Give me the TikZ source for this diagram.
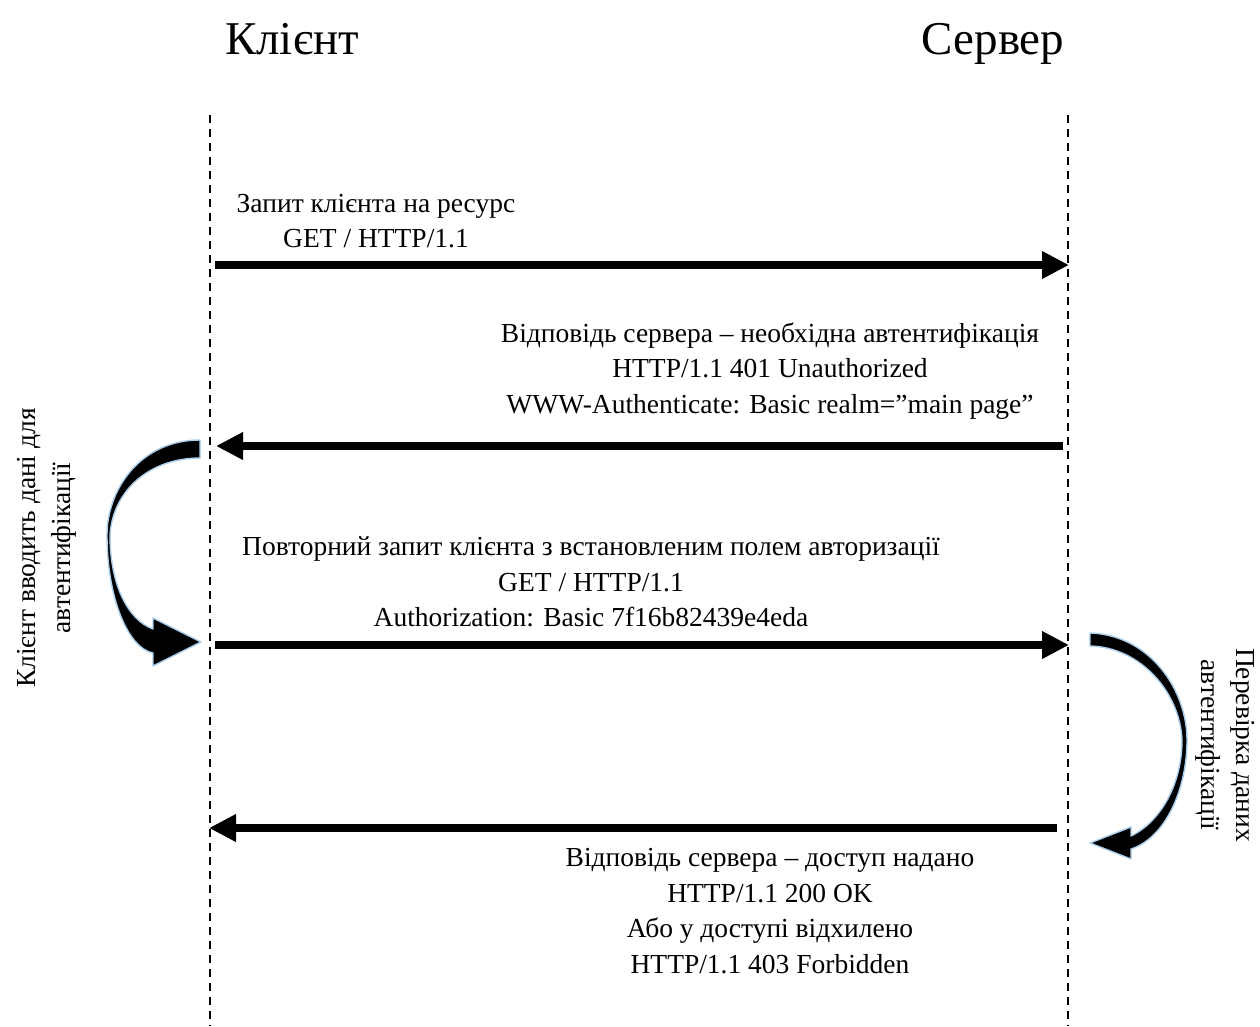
\documentclass[tikz,border=0pt]{standalone}
\usepackage{fontspec}
\setmainfont{Liberation Serif}
\usetikzlibrary{arrows.meta}
\begin{document}
\begin{tikzpicture}[x=1pt,y=-1pt,
  msg/.style={line width=8pt,-{Triangle[length=27pt,width=26pt]}},
  life/.style={line width=1.1pt,dash pattern=on 8pt off 6pt},
  lbl/.style={align=center,inner sep=0pt,font=\fontsize{27.5}{35.5}\selectfont},
  ttl/.style={inner sep=0pt,anchor=base,font=\fontsize{47}{50}\selectfont},
  curvearrow/.style={fill=black,draw={rgb,255:red,170;green,205;blue,235},line width=1.4pt,line join=round}]
\useasboundingbox (0,0) rectangle (1260,1026);

% headings
\node[ttl] (client) at (292,54) {Клієнт};
\node[ttl] (server) at (993,54) {Сервер};

% lifelines
\coordinate (cT) at (210,115); \coordinate (cB) at (210,1026);
\coordinate (sT) at (1068,115); \coordinate (sB) at (1068,1026);
\draw[life] (cT) -- (cB);
\draw[life] (sT) -- (sB);

% message end points
\coordinate (m1a) at (215,265);  \coordinate (m1b) at (1069,265);
\coordinate (m2a) at (1063,446); \coordinate (m2b) at (216,446);
\coordinate (m3a) at (215,645);  \coordinate (m3b) at (1069,645);
\coordinate (m4a) at (1057,828); \coordinate (m4b) at (209,828);

\draw[msg] (m1a) -- (m1b);
\draw[msg] (m2a) -- (m2b);
\draw[msg] (m3a) -- (m3b);
\draw[msg] (m4a) -- (m4b);

% message labels
\node[lbl] (t1) at (376,221) {Запит клієнта на ресурс\\GET / HTTP/1.1};
\node[lbl] (t2) at (770,371) {Відповідь сервера – необхідна автентифікація\\HTTP/1.1 401 Unauthorized\\WWW-Authenticate: Basic realm=”main page”};
\node[lbl] (t3) at (591,582) {Повторний запит клієнта з встановленим полем авторизації\\GET / HTTP/1.1\\Authorization: Basic 7f16b82439e4eda};
\node[lbl] (t4) at (770,911) {Відповідь сервера – доступ надано\\HTTP/1.1 200 OK\\Або у доступі відхилено\\HTTP/1.1 403 Forbidden};

% client-side curved arrow
\path[curvearrow] (200,440) .. controls (140,440) and (107,490) .. (107,535)
  .. controls (107,598) and (128,648) .. (153,653) -- (153,666) -- (201,642)
  -- (153,618) -- (153,629) .. controls (128,620) and (110,585) .. (110,535)
  .. controls (113,490) and (150,458) .. (200,458) -- cycle;

% server-side curved arrow
\path[curvearrow] (1090,633) .. controls (1150,635) and (1187,690) .. (1187,740)
  .. controls (1187,790) and (1165,838) .. (1131,849) -- (1131,859) -- (1090,843)
  -- (1131,827) -- (1131,836) .. controls (1160,822) and (1182,785) .. (1182,740)
  .. controls (1180,692) and (1140,647) .. (1090,646) -- cycle;

% side notes
\node[lbl,rotate=90] (n1) at (47,548) {Клієнт вводить дані для\\автентифікації};
\node[lbl,rotate=-90] (n2) at (1225,745) {Перевірка даних\\автентифікації};
\end{tikzpicture}
\end{document}
